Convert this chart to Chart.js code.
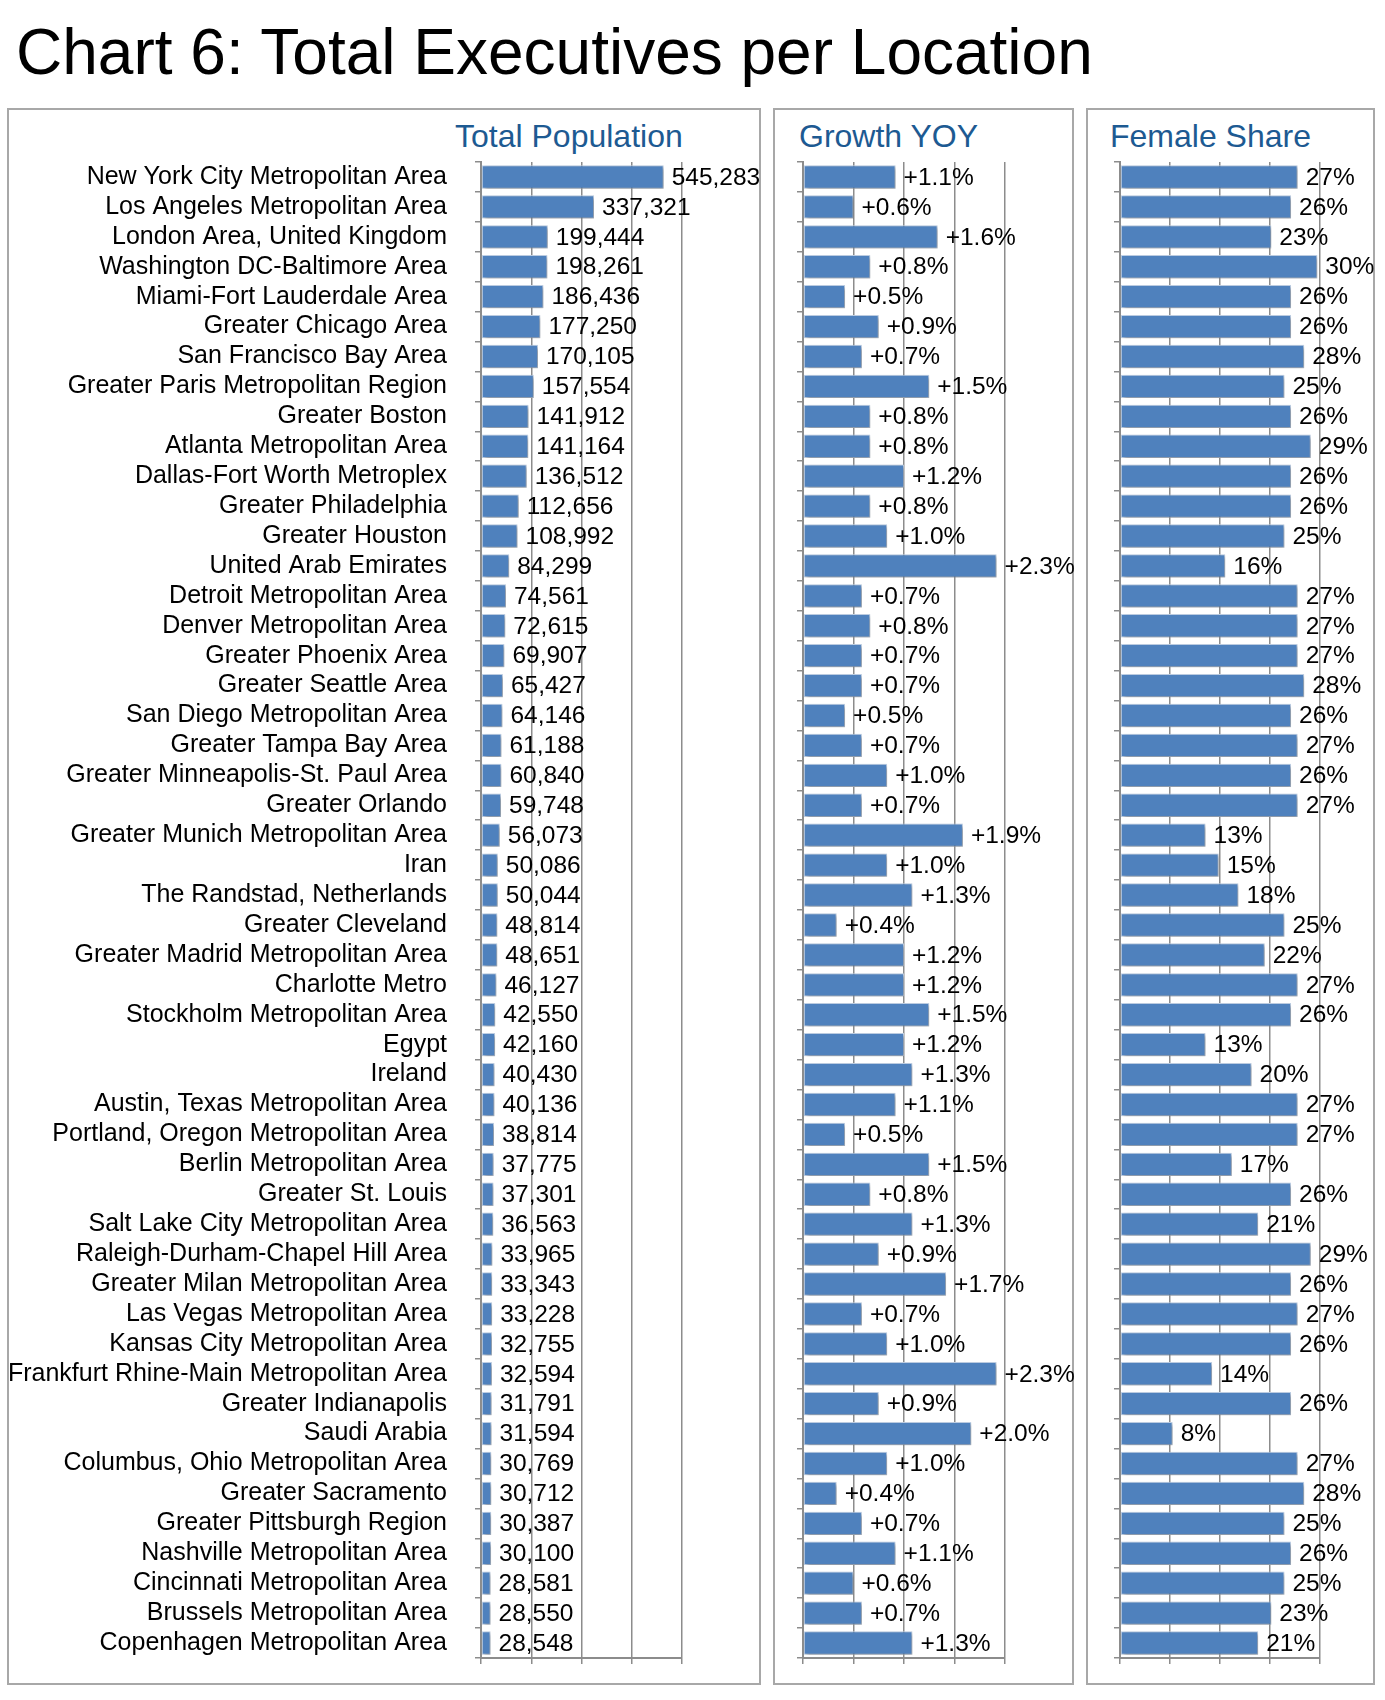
<!DOCTYPE html>
<html>
<head>
<meta charset="utf-8">
<title>Chart 6: Total Executives per Location</title>
<script src="https://cdn.jsdelivr.net/npm/chart.js@4.4.1/dist/chart.umd.min.js"></script>
<style>
  body { margin: 0; background: #fff; font-family: "Liberation Sans", Arial, sans-serif; }
  #page { position: relative; width: 1385px; height: 1700px; }
  h1 { position: absolute; left: 16px; top: 20px; margin: 0; font-size: 64px; line-height: 64px; font-weight: normal; color: #000; white-space: nowrap; }
  .box { position: absolute; top: 108px; height: 1577px; box-sizing: border-box; border: 2px solid #a8a8a8; }
  .head { position: absolute; top: 120px; font-size: 32px; line-height: 32px; color: #1d5a92; white-space: nowrap; }
  canvas { position: absolute; top: 108px; }
</style>
</head>
<body>
<div id="page">
  <h1>Chart 6: Total Executives per Location</h1>

  <div class="box" style="left:7px;width:754px"></div>
  <div class="box" style="left:773px;width:301px"></div>
  <div class="box" style="left:1086px;width:289px"></div>

  <div class="head" style="left:455px">Total Population</div>
  <div class="head" style="left:799px">Growth YOY</div>
  <div class="head" style="left:1110px">Female Share</div>

  <canvas id="pop" width="754" height="1577" style="left:7px"></canvas>
  <canvas id="growth" width="301" height="1577" style="left:773px"></canvas>
  <canvas id="female" width="289" height="1577" style="left:1086px"></canvas>
</div>

<script>
const locations = [
  'New York City Metropolitan Area', 'Los Angeles Metropolitan Area', 'London Area, United Kingdom',
  'Washington DC-Baltimore Area', 'Miami-Fort Lauderdale Area', 'Greater Chicago Area',
  'San Francisco Bay Area', 'Greater Paris Metropolitan Region', 'Greater Boston',
  'Atlanta Metropolitan Area', 'Dallas-Fort Worth Metroplex', 'Greater Philadelphia',
  'Greater Houston', 'United Arab Emirates', 'Detroit Metropolitan Area',
  'Denver Metropolitan Area', 'Greater Phoenix Area', 'Greater Seattle Area',
  'San Diego Metropolitan Area', 'Greater Tampa Bay Area', 'Greater Minneapolis-St. Paul Area',
  'Greater Orlando', 'Greater Munich Metropolitan Area', 'Iran',
  'The Randstad, Netherlands', 'Greater Cleveland', 'Greater Madrid Metropolitan Area',
  'Charlotte Metro', 'Stockholm Metropolitan Area', 'Egypt',
  'Ireland', 'Austin, Texas Metropolitan Area', 'Portland, Oregon Metropolitan Area',
  'Berlin Metropolitan Area', 'Greater St. Louis', 'Salt Lake City Metropolitan Area',
  'Raleigh-Durham-Chapel Hill Area', 'Greater Milan Metropolitan Area', 'Las Vegas Metropolitan Area',
  'Kansas City Metropolitan Area', 'Frankfurt Rhine-Main Metropolitan Area', 'Greater Indianapolis',
  'Saudi Arabia', 'Columbus, Ohio Metropolitan Area', 'Greater Sacramento',
  'Greater Pittsburgh Region', 'Nashville Metropolitan Area', 'Cincinnati Metropolitan Area',
  'Brussels Metropolitan Area', 'Copenhagen Metropolitan Area'
];

const totalPopulation = [
  545283, 337321, 199444, 198261, 186436, 177250, 170105, 157554, 141912, 141164,
  136512, 112656, 108992, 84299, 74561, 72615, 69907, 65427, 64146, 61188,
  60840, 59748, 56073, 50086, 50044, 48814, 48651, 46127, 42550, 42160,
  40430, 40136, 38814, 37775, 37301, 36563, 33965, 33343, 33228, 32755,
  32594, 31791, 31594, 30769, 30712, 30387, 30100, 28581, 28550, 28548
];

const growthYOY = [
  1.1, 0.6, 1.6, 0.8, 0.5, 0.9, 0.7, 1.5, 0.8, 0.8,
  1.2, 0.8, 1.0, 2.3, 0.7, 0.8, 0.7, 0.7, 0.5, 0.7,
  1.0, 0.7, 1.9, 1.0, 1.3, 0.4, 1.2, 1.2, 1.5, 1.2,
  1.3, 1.1, 0.5, 1.5, 0.8, 1.3, 0.9, 1.7, 0.7, 1.0,
  2.3, 0.9, 2.0, 1.0, 0.4, 0.7, 1.1, 0.6, 0.7, 1.3
];

const femaleShare = [
  27, 26, 23, 30, 26, 26, 28, 25, 26, 29,
  26, 26, 25, 16, 27, 27, 27, 28, 26, 27,
  26, 27, 13, 15, 18, 25, 22, 27, 26, 13,
  20, 27, 27, 17, 26, 21, 29, 26, 27, 26,
  14, 26, 8, 27, 28, 25, 26, 25, 23, 21
];

const FONT = '"Liberation Sans", Arial, sans-serif';
const GRID = '#8c8c8c';

// label formats per canvas (kept outside options so Chart.js doesn't treat them as scriptable)
const formats = {
  pop: v => v.toLocaleString('en-US'),
  growth: v => '+' + v.toFixed(1) + '%',
  female: v => v + '%'
};

// bar shadow + value labels at the bar ends
const barLabels = {
  id: 'barLabels',
  beforeDatasetsDraw(chart) {
    const c = chart.ctx;
    c.save();
    c.shadowColor = 'rgba(0,0,0,0.35)';
    c.shadowBlur = 4;
    c.shadowOffsetX = 2;
    c.shadowOffsetY = 2;
  },
  afterDatasetsDraw(chart) {
    const c = chart.ctx;
    c.restore();
    const fmt = formats[chart.canvas.id];
    const meta = chart.getDatasetMeta(0);
    const vals = chart.data.datasets[0].data;
    c.save();
    c.font = '24.5px ' + FONT;
    c.fillStyle = '#000';
    c.textAlign = 'left';
    c.textBaseline = 'middle';
    meta.data.forEach((bar, i) => {
      c.fillText(fmt(vals[i]), bar.x + 8, bar.y + 1);
    });
    c.restore();
  }
};

function noPad(s) {
  s.paddingTop = 0; s.paddingBottom = 0; s.paddingLeft = 0; s.paddingRight = 0;
}

function makePanel(id, values, max, step, showNames, yWidth, padRight) {
  return new Chart(document.getElementById(id), {
    type: 'bar',
    data: {
      labels: locations,
      datasets: [{
        data: values,
        backgroundColor: '#4f81bd',
        borderColor: '#c3d4ea',
        borderWidth: 1,
        borderSkipped: false,
        barPercentage: 0.78,
        categoryPercentage: 1
      }]
    },
    options: {
      indexAxis: 'y',
      responsive: false,
      animation: false,
      events: [],
      layout: { padding: { left: 0, top: 54, right: padRight, bottom: 7 } },
      plugins: {
        legend: { display: false },
        tooltip: { enabled: false }
      },
      scales: {
        x: {
          min: 0,
          max: max,
          ticks: { stepSize: step, display: false },
          grid: { color: GRID, lineWidth: 1.5, drawTicks: true, tickLength: 6 },
          border: { display: true, color: GRID, width: 2 },
          afterFit(s) { s.height = 20; noPad(s); }
        },
        y: {
          ticks: {
            display: showNames,
            autoSkip: false,
            padding: 28,
            color: '#000',
            font: { family: FONT, size: 25, lineHeight: 1 }
          },
          grid: { drawOnChartArea: false, drawTicks: true, tickLength: 6, color: GRID, lineWidth: 1.5 },
          border: { display: true, color: GRID, width: 2 },
          afterFit(s) { s.width = yWidth; noPad(s); }
        }
      }
    },
    plugins: [barLabels]
  });
}

makePanel('pop', totalPopulation, 600000, 150000, true, 474, 79);
makePanel('growth', growthYOY, 2.4, 0.6, false, 30, 69);
makePanel('female', femaleShare, 30.4, 7.6, false, 34, 55);
</script>
</body>
</html>
